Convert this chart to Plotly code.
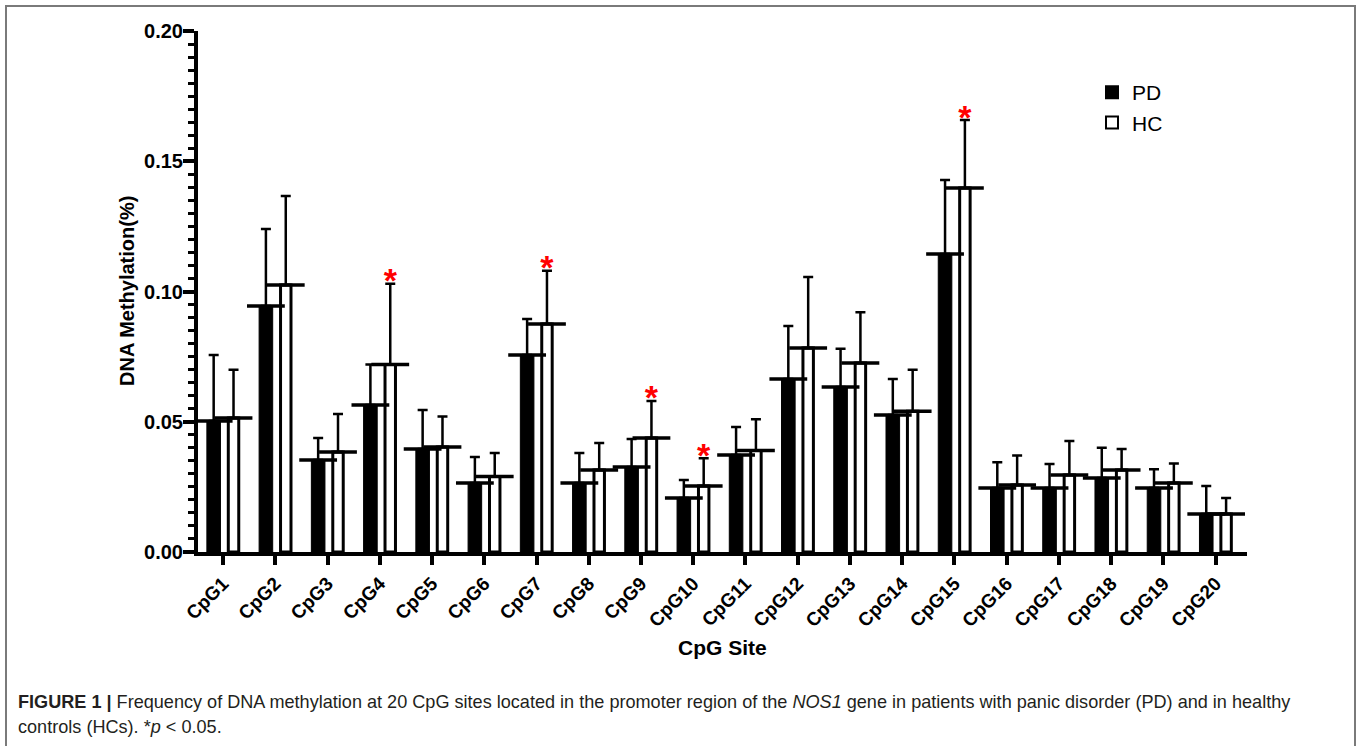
import numpy as np
import plotly.graph_objects as go

sites = ["CpG1", "CpG2", "CpG3", "CpG4", "CpG5", "CpG6", "CpG7", "CpG8", "CpG9", "CpG10",
         "CpG11", "CpG12", "CpG13", "CpG14", "CpG15", "CpG16", "CpG17", "CpG18", "CpG19", "CpG20"]
pd_mean = [0.0503, 0.0944, 0.0353, 0.0564, 0.0395, 0.0265, 0.0756, 0.0265, 0.0326, 0.0207,
           0.0372, 0.0664, 0.0633, 0.0526, 0.1144, 0.0246, 0.0246, 0.0284, 0.0246, 0.0146]
pd_sd = [0.0253, 0.0296, 0.0085, 0.0156, 0.0150, 0.0100, 0.0138, 0.0115, 0.0108, 0.0069,
         0.0108, 0.0204, 0.0147, 0.0138, 0.0284, 0.0099, 0.0092, 0.0116, 0.0072, 0.0107]
hc_mean = [0.0514, 0.1025, 0.0384, 0.0720, 0.0403, 0.0290, 0.0875, 0.0315, 0.0438, 0.0253,
           0.0390, 0.0783, 0.0726, 0.0540, 0.1397, 0.0257, 0.0296, 0.0315, 0.0265, 0.0146]
hc_sd = [0.0186, 0.0342, 0.0146, 0.0310, 0.0117, 0.0090, 0.0205, 0.0103, 0.0142, 0.0107,
         0.0120, 0.0273, 0.0194, 0.0160, 0.0261, 0.0113, 0.0130, 0.0080, 0.0075, 0.0061]
significant = ["CpG4", "CpG7", "CpG9", "CpG10", "CpG15"]
yticks = [0.00, 0.05, 0.10, 0.15, 0.20]

FONT = "Liberation Sans, Arial, sans-serif"
idx = np.arange(len(sites))
x_pd = idx - 0.18
x_hc = idx + 0.20

fig = go.Figure()
fig.add_trace(go.Bar(
    x=x_pd, y=pd_mean, width=0.26, name="PD",
    marker=dict(color="black", line=dict(color="black", width=1)),
    error_y=dict(type="data", symmetric=False, array=pd_sd, arrayminus=[0] * len(pd_sd),
                 color="black", thickness=2.5, width=5),
))
fig.add_trace(go.Bar(
    x=x_hc, y=hc_mean, width=0.2, name="HC",
    marker=dict(color="white", line=dict(color="black", width=3)),
    error_y=dict(type="data", symmetric=False, array=hc_sd, arrayminus=[0] * len(hc_sd),
                 color="black", thickness=2.5, width=5),
))
# wide top edge of each bar
for xs, ys in ((x_pd, pd_mean), (x_hc, hc_mean)):
    fig.add_trace(go.Scatter(
        x=xs, y=ys, mode="markers", showlegend=False, hoverinfo="skip",
        marker=dict(symbol="line-ew", size=27, line=dict(color="black", width=3.5)),
    ))
# significance stars
sig_x = [x_hc[sites.index(s)] for s in significant]
sig_y = [hc_mean[sites.index(s)] + hc_sd[sites.index(s)] for s in significant]
fig.add_trace(go.Scatter(
    x=sig_x, y=sig_y, mode="text", text=["<b>*</b>"] * len(sig_x), textposition="middle center",
    textfont=dict(color="red", size=34, family=FONT), showlegend=False, hoverinfo="skip",
))

L, R, T, B = 198, 113, 31, 194
W, H = 1360, 746
pw, ph = W - L - R, H - T - B

def px(xpix):
    return (xpix - L) / pw

def py(ypix):
    return (H - B - ypix) / ph

fig.update_layout(
    width=W, height=H, margin=dict(l=L, r=R, t=T, b=B, autoexpand=False),
    plot_bgcolor="white", paper_bgcolor="white", barmode="overlay",
    font=dict(family=FONT, color="black"),
    legend=dict(x=px(1092), y=py(72), xanchor="left", yanchor="top",
                font=dict(size=21, family=FONT, color="black"), bgcolor="rgba(0,0,0,0)",
                itemsizing="constant", tracegroupgap=2),
    showlegend=True,
)
fig.update_xaxes(
    range=[-0.48, 19.6], tickmode="array", tickvals=idx, ticktext=sites,
    tickangle=-45, ticks="outside", ticklen=9, tickwidth=4, tickcolor="black",
    showline=True, linewidth=4, linecolor="black", showgrid=False, zeroline=False,
    tickfont=dict(size=19, family=FONT, color="black", weight="bold"),
)
fig.update_yaxes(
    range=[0, 0.2], tickmode="array", tickvals=yticks, ticktext=[f"{v:.2f}" for v in yticks],
    ticks="outside", ticklen=11, tickwidth=4, tickcolor="black", ticklabelstandoff=-4,
    minor=dict(dtick=0.005, ticks="outside", ticklen=6, tickwidth=3, tickcolor="black"),
    showline=True, linewidth=4, linecolor="black", showgrid=False, zeroline=False,
    tickfont=dict(size=20, family=FONT, color="black", weight="bold"),
)
fig.add_annotation(
    xref="paper", yref="paper", x=px(127), y=py(291), xanchor="center", yanchor="middle",
    text="<b>DNA Methylation(%)</b>", textangle=-90, showarrow=False,
    font=dict(size=20, family=FONT, color="black"),
)
fig.add_annotation(
    xref="paper", yref="paper", x=px(722), y=py(647), xanchor="center", yanchor="middle",
    text="<b>CpG Site</b>", showarrow=False, font=dict(size=21, family=FONT, color="black"),
)
fig.add_annotation(
    xref="paper", yref="paper", x=px(16), y=py(702), xanchor="left", yanchor="middle",
    text=("<b>FIGURE 1 |</b> Frequency of DNA methylation at 20 CpG sites located in the promoter "
          "region of the <i>NOS1</i> gene in patients with panic disorder (PD) and in healthy"),
    showarrow=False, font=dict(size=18.1, family=FONT, color="#231f20"), align="left",
)
fig.add_annotation(
    xref="paper", yref="paper", x=px(16), y=py(727), xanchor="left", yanchor="middle",
    text="controls (HCs). *<i>p</i> &lt; 0.05.",
    showarrow=False, font=dict(size=18.1, family=FONT, color="#231f20"), align="left",
)
fig.add_shape(
    type="rect", xref="paper", yref="paper",
    x0=px(6), x1=px(1355), y0=py(760), y1=py(6),
    line=dict(color="#7a7a7a", width=2), fillcolor="rgba(0,0,0,0)", layer="above",
)

fig.write_html("out.html", config={"displayModeBar": False},
               post_script="document.body.style.margin='0';document.body.style.overflow='hidden';")
